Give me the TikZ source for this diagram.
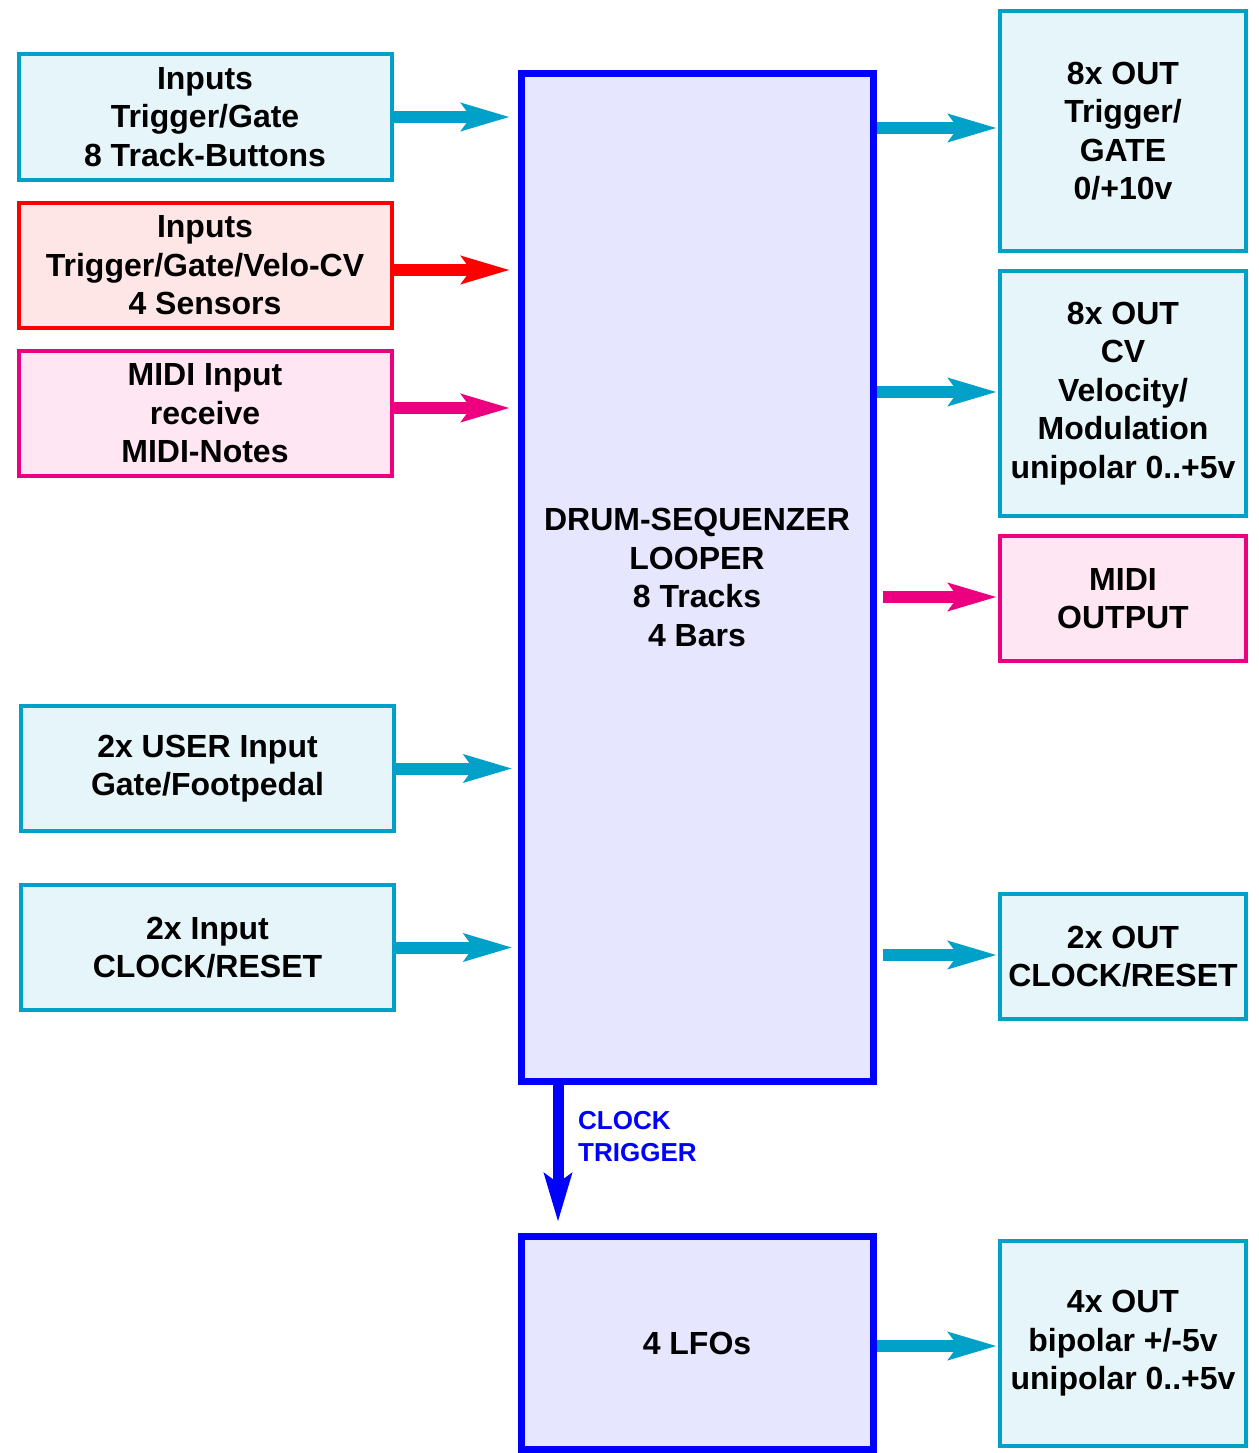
\documentclass[tikz,border=0pt]{standalone}
\usepackage{fontspec}
\setmainfont{Liberation Sans}
\usetikzlibrary{arrows.meta}
\definecolor{cyanline}{RGB}{0, 161, 200}
\definecolor{cyanfill}{RGB}{230, 245, 250}
\definecolor{redline}{RGB}{255, 0, 0}
\definecolor{redfill}{RGB}{255, 230, 230}
\definecolor{pinkline}{RGB}{236, 0, 127}
\definecolor{pinkfill}{RGB}{255, 230, 242}
\definecolor{blueline}{RGB}{0, 0, 255}
\definecolor{bluefill}{RGB}{230, 230, 255}

\newcommand{\boxfont}{\bfseries\fontsize{32}{38.5}\selectfont}

\tikzset{
    modbox/.style={line width=4pt, align=center, font=\boxfont, inner sep=0pt},
    cyanbox/.style={modbox, draw=cyanline, fill=cyanfill},
    redbox/.style={modbox, draw=redline, fill=redfill},
    pinkbox/.style={modbox, draw=pinkline, fill=pinkfill},
    corebox/.style={modbox, line width=7pt, draw=blueline, fill=bluefill},
    inbox/.style={minimum width=373pt, minimum height=125pt},
    outbox/.style={minimum width=246pt},
    flow/.style={line width=12pt, -{Stealth[length=48pt, width=27pt, inset=9pt]}},
}

\begin{document}
\begin{tikzpicture}[x=1pt, y=-1pt]
    \useasboundingbox (0,0) rectangle (1258,1453);

    % sequencer and LFOs
    \node[corebox, minimum width=352pt, minimum height=1008pt] (main) at (697,577.5)
        {DRUM-SEQUENZER\\LOOPER\\8 Tracks\\4 Bars};
    \node[corebox, minimum width=352pt, minimum height=213pt] (lfo) at (697,1343)
        {4 LFOs};

    % inputs
    \node[cyanbox, inbox] (trig) at (205,117) {Inputs\\Trigger/Gate\\8 Track-Buttons};
    \node[redbox, inbox] (sens) at (205,265.5) {Inputs\\Trigger/Gate/Velo-CV\\4 Sensors};
    \node[pinkbox, inbox] (midiin) at (205,413.5) {MIDI Input\\receive\\MIDI-Notes};
    \node[cyanbox, inbox] (user) at (207.5,768.5) {2x USER Input\\Gate/Footpedal};
    \node[cyanbox, inbox] (clkin) at (207.5,947.5) {2x Input\\CLOCK/RESET};

    % outputs
    \node[cyanbox, outbox, minimum height=240pt] (gate) at (1123,131) {8x OUT\\Trigger/\\GATE\\0/+10v};
    \node[cyanbox, outbox, minimum height=245pt] (cv) at (1123,393.5)
        {8x OUT\\CV\\Velocity/\\Modulation\\unipolar 0..+5v};
    \node[pinkbox, outbox, minimum height=125pt] (midiout) at (1123,598.5) {MIDI\\OUTPUT};
    \node[cyanbox, outbox, minimum height=125pt] (clkout) at (1123,956.5) {2x OUT\\CLOCK/RESET};
    \node[cyanbox, outbox, minimum height=205pt] (lfoout) at (1123,1343.5)
        {4x OUT\\bipolar +/-5v\\unipolar 0..+5v};

    % clock label
    \node[anchor=base west, align=left, text=blueline, inner sep=0pt,
          font=\bfseries\fontsize{26}{32}\selectfont] (clklbl) at (578,1161) {CLOCK\\TRIGGER};

    % input arrows
    \draw[flow, cyanline, shorten >=7.5pt] (trig.east) -- (trig.east -| main.west);
    \draw[flow, redline, shorten >=7.5pt] ([yshift=-4.5pt]sens.east) -- ([yshift=-4.5pt]sens.east -| main.west);
    \draw[flow, pinkline, shorten >=7.5pt] ([yshift=5.5pt]midiin.east) -- ([yshift=5.5pt]midiin.east -| main.west);
    \draw[flow, cyanline, shorten >=5pt] (user.east) -- (user.east -| main.west);
    \draw[flow, cyanline, shorten >=5pt] (clkin.east) -- (clkin.east -| main.west);

    % output arrows
    \draw[flow, cyanline, shorten >=1pt] ([yshift=3pt]gate.west -| main.east) -- ([yshift=3pt]gate.west);
    \draw[flow, cyanline, shorten >=1pt] ([yshift=1.5pt]cv.west -| main.east) -- ([yshift=1.5pt]cv.west);
    \draw[flow, pinkline, shorten <=6.5pt, shorten >=1pt] ([yshift=1.5pt]midiout.west -| main.east) -- ([yshift=1.5pt]midiout.west);
    \draw[flow, cyanline, shorten <=6.5pt, shorten >=1pt] ([yshift=1.5pt]clkout.west -| main.east) -- ([yshift=1.5pt]clkout.west);
    \draw[flow, cyanline, shorten >=1pt] ([yshift=-2.5pt]lfoout.west -| lfo.east) -- ([yshift=-2.5pt]lfoout.west);

    % clock to LFOs
    \draw[flow, blueline, line width=11pt, shorten >=11pt]
        ([xshift=40.5pt]main.south west) -- ([xshift=40.5pt]lfo.north west);
\end{tikzpicture}
\end{document}
